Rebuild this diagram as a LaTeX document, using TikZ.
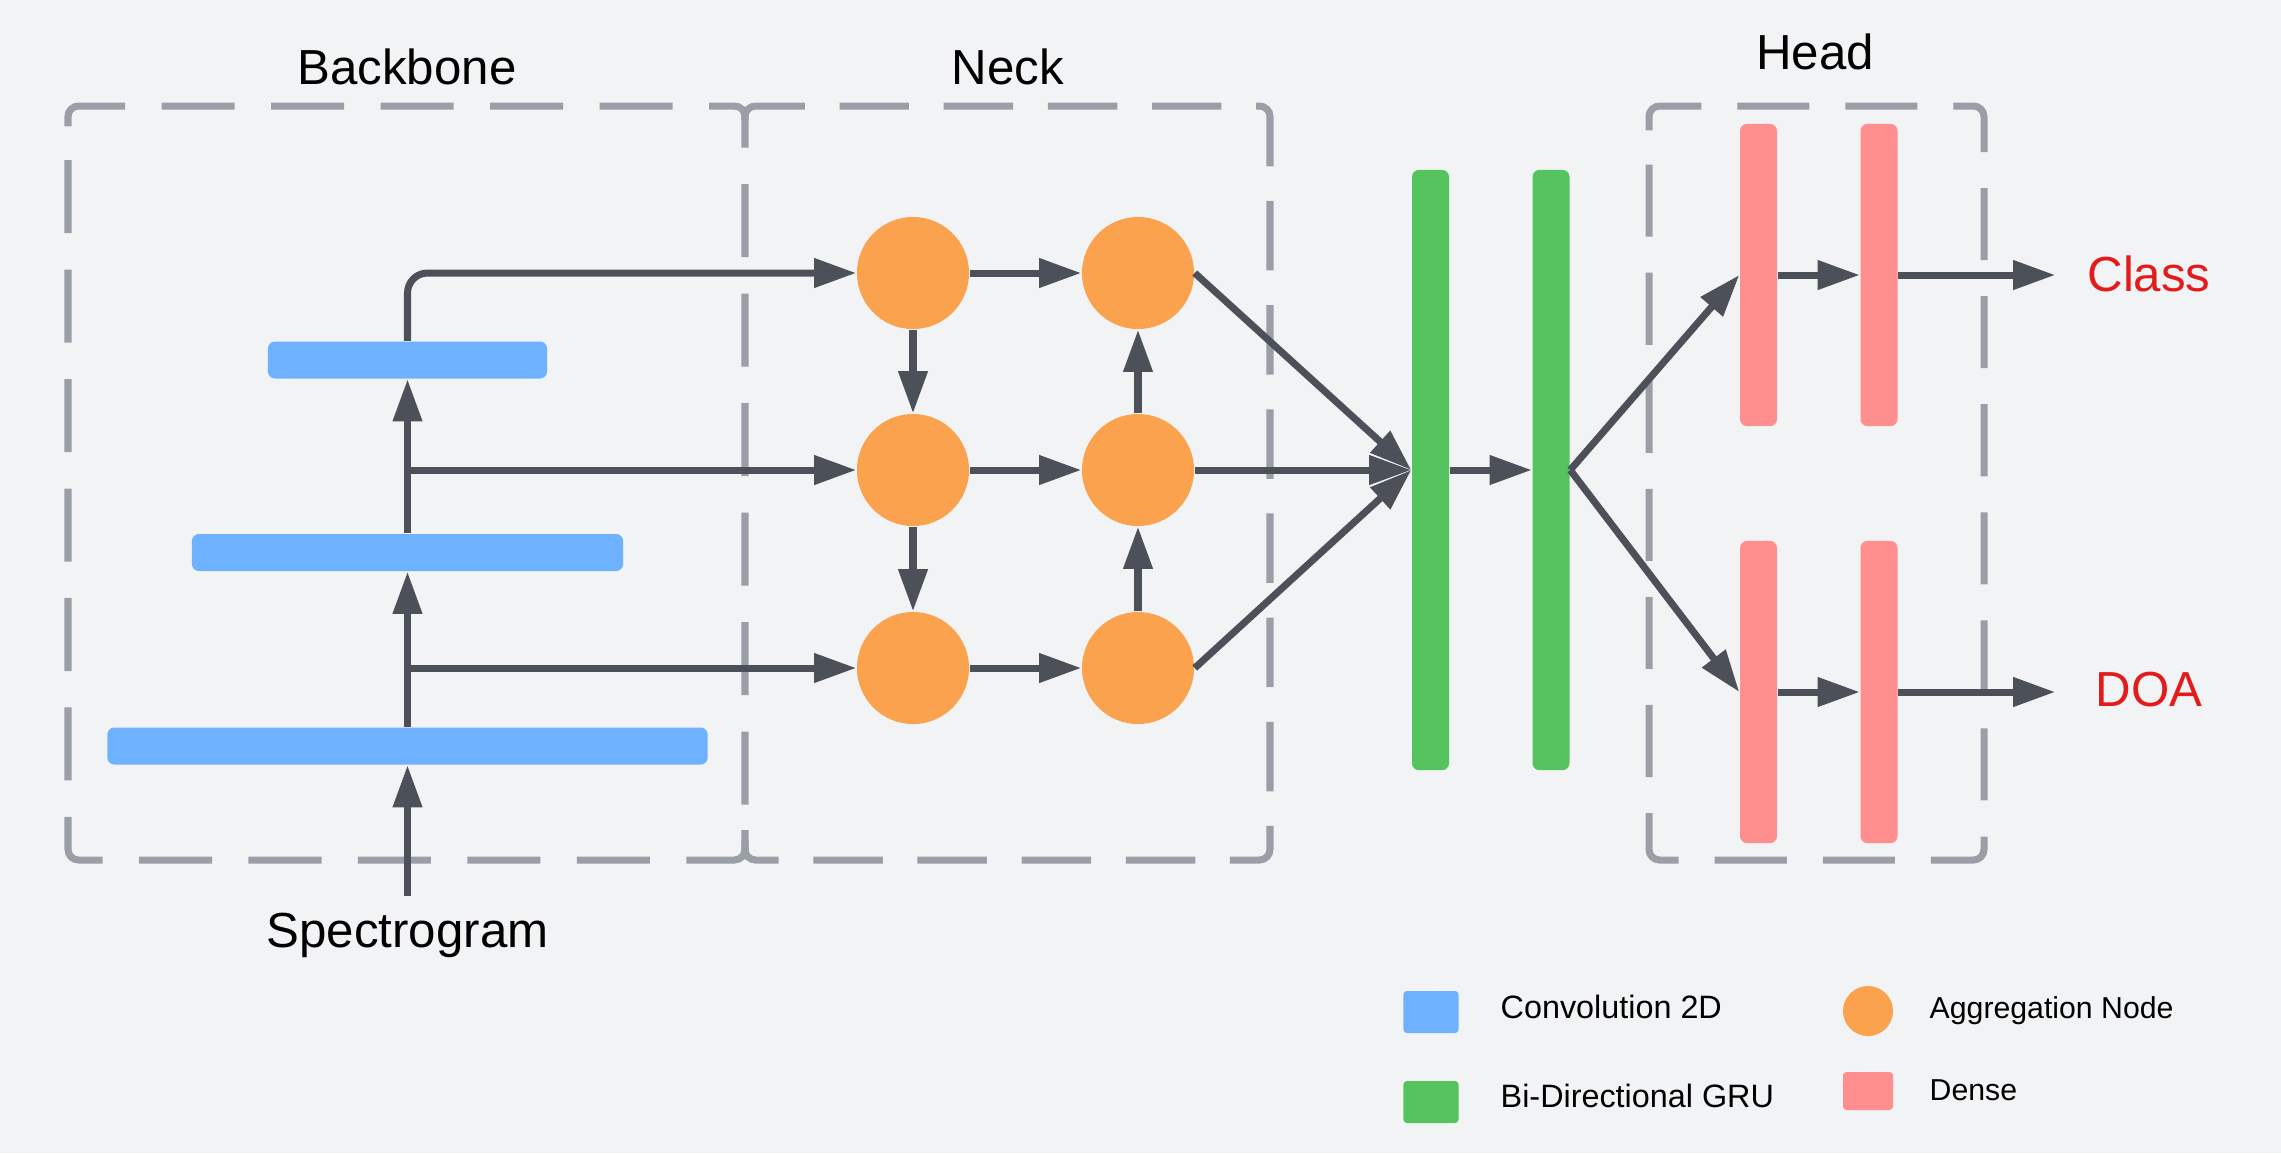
\documentclass[tikz,border=0pt]{standalone}
\usepackage{fontspec}
\setmainfont{Liberation Sans}
\usetikzlibrary{arrows.meta}
\definecolor{bg}{HTML}{F2F3F5}
\definecolor{convblue}{HTML}{6EB1FF}
\definecolor{grugreen}{HTML}{55C45E}
\definecolor{aggorange}{HTML}{FBA24F}
\definecolor{densepink}{HTML}{FF8F8F}
\definecolor{outred}{HTML}{E31B1B}
\definecolor{boxgray}{HTML}{9A9EA6}
\definecolor{linegray}{HTML}{4B5059}
\tikzset{
  conv/.style={fill=convblue, rounded corners=2pt, minimum height=0.37cm, inner sep=0},
  gru/.style={fill=grugreen, rounded corners=2pt, minimum width=0.37cm, minimum height=6cm, inner sep=0},
  dense/.style={fill=densepink, rounded corners=2pt, minimum width=0.37cm, minimum height=3.02cm, inner sep=0},
  agg/.style={circle, fill=aggorange, minimum size=1.12cm, inner sep=0},
  part/.style={draw=boxgray, line width=2pt, rounded corners=3pt, dash pattern=on 20.49pt off 10.24pt},
  arr/.style={draw=linegray, line width=2pt, -{Triangle[length=12pt,width=8pt]}},
  title/.style={font=\fontsize{14}{16}\selectfont, anchor=base, inner sep=0},
  outlabel/.style={font=\fontsize{14}{16}\selectfont, text=outred, anchor=base, minimum width=1.86cm, inner sep=0},
  legbox/.style={rounded corners=1pt, inner sep=0},
  legtext/.style={anchor=base west, inner sep=0}
}
\begin{document}
\begin{tikzpicture}[x=0.01cm,y=-0.01cm]
  \fill[bg] (0,0) rectangle (2281,1153);
  \useasboundingbox (0,0) rectangle (2281,1153);
  % dashed parts
  \draw[part, dash pattern=on 20.77pt off 10.36pt] (68,137) -- (68,106) -- (745,106) -- (745,860) -- (68,860) -- cycle;
  \draw[part, dash pattern=on 19.75pt off 9.87pt, dash phase=25.15pt] (745,136) -- (745,106) -- (1270,106) -- (1270,860) -- (745,860) -- (745,830);
  \draw[part] (1649,141) -- (1649,106) -- (1984,106) -- (1984,860) -- (1649,860) -- cycle;
  \node[title] (bbl) at (407,84) {Backbone};
  \node[title] (nkl) at (1008,84) {Neck};
  \node[title] (hdl) at (1815,69) {Head};
  \node[title] (spec) at (407.5,947) {Spectrogram};
  \coordinate (in) at (407.5,896);
  % backbone
  \node[conv, minimum width=6cm] (c1) at (407.5,746) {};
  \node[conv, minimum width=4.31cm] (c2) at (407.5,552.5) {};
  \node[conv, minimum width=2.79cm] (c3) at (407.5,360) {};
  % neck
  \node[agg] (n11) at (913,273) {};
  \node[agg] (n21) at (913,470) {};
  \node[agg] (n31) at (913,668) {};
  \node[agg] (n12) at (1138,273) {};
  \node[agg] (n22) at (1138,470) {};
  \node[agg] (n32) at (1138,668) {};
  % gru
  \node[gru] (g1) at (1430.5,470) {};
  \node[gru] (g2) at (1551,470) {};
  % head
  \node[dense] (d11) at (1758.5,275) {};
  \node[dense] (d12) at (1879,275) {};
  \node[dense] (d21) at (1758.5,692) {};
  \node[dense] (d22) at (1879,692) {};
  \node[outlabel] (cls) at (2149,291) {Class};
  \node[outlabel] (doa) at (2149,706) {DOA};
  \begin{scope}[arr]
    \draw (in) -- (c1.south);
    \draw (c1.north) -- (c2.south);
    \draw (c2.north) -- (c3.south);
    \draw[rounded corners=0.2cm] (c3.north) |- (n11.west);
    \draw (c3.south |- n21) -- (n21.west);
    \draw (c2.south |- n31) -- (n31.west);
    \draw (n11) -- (n12);
    \draw (n21) -- (n22);
    \draw (n31) -- (n32);
    \draw (n11) -- (n21);
    \draw (n21) -- (n31);
    \draw (n32) -- (n22);
    \draw (n22) -- (n12);
    \draw (n12.east) -- (g1.west);
    \draw (n22.east) -- (g1.west);
    \draw (n32.east) -- (g1.west);
    \draw (g1) -- (g2);
    \draw (g2.east) -- (d11.west);
    \draw (g2.east) -- (d21.west);
    \draw (d11) -- (d12);
    \draw (d21) -- (d22);
    \draw (d12) -- (d12 -| cls.west);
    \draw (d22) -- (d22 -| doa.west);
  \end{scope}
  % legend
  \node[legbox, fill=convblue, minimum width=0.55cm, minimum height=0.42cm] (lconv) at (1431,1012) {};
  \node[legbox, fill=grugreen, minimum width=0.55cm, minimum height=0.42cm] (lgru) at (1431,1102) {};
  \node[circle, fill=aggorange, minimum size=0.5cm, inner sep=0] (lagg) at (1868,1011) {};
  \node[legbox, fill=densepink, minimum width=0.5cm, minimum height=0.38cm] (ldense) at (1868,1091) {};
  \node[legtext, font=\fontsize{9.2}{11}\selectfont] (tconv) at (1500,1018) {Convolution 2D};
  \node[legtext, font=\fontsize{9.2}{11}\selectfont] (tgru) at (1500,1107) {Bi-Directional GRU};
  \node[legtext, font=\fontsize{8.6}{10}\selectfont] (tagg) at (1929,1018) {Aggregation Node};
  \node[legtext, font=\fontsize{8.6}{10}\selectfont] (tdense) at (1929,1100) {Dense};
\end{tikzpicture}
\end{document}
